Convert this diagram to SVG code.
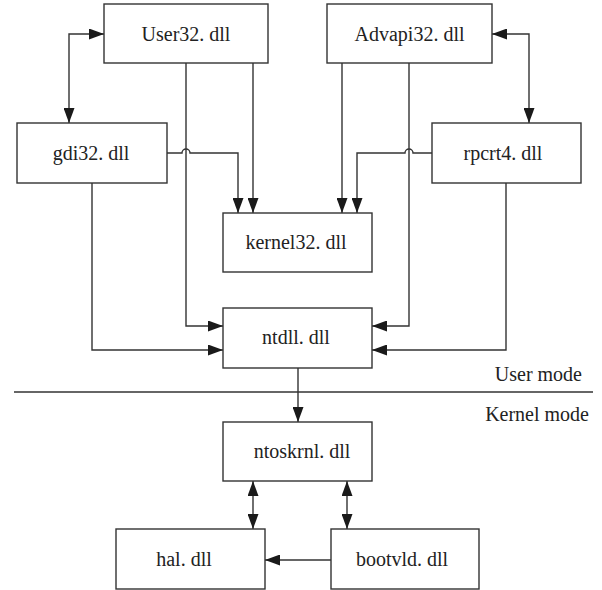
<svg xmlns="http://www.w3.org/2000/svg" width="602" height="590" viewBox="0 0 602 590">
  <style>
    .box { fill: #ffffff; stroke: #333333; stroke-width: 1.4; }
    .lbl { font-family: 'Liberation Serif', 'DejaVu Serif', serif; font-size: 20px; fill: #222222; text-anchor: middle; }
    .mode { font-family: 'Liberation Serif', 'DejaVu Serif', serif; font-size: 20px; fill: #222222; text-anchor: end; }
    .wire { fill: none; stroke: #333333; stroke-width: 1.4; }
    .arr { marker-end: url(#head); }
    .both { marker-start: url(#head); marker-end: url(#head); }
  </style>
  <defs>
    <marker id="head" viewBox="0 0 15 11" markerUnits="userSpaceOnUse" markerWidth="15" markerHeight="11" refX="15" refY="5.5" orient="auto-start-reverse">
      <path d="M0,0 L15,5.5 L0,11 z" fill="#1a1a1a"/>
    </marker>
  </defs>

  <rect width="602" height="590" fill="#ffffff"/>

  <!-- user / kernel boundary -->
  <line x1="14" y1="392" x2="593" y2="392" stroke="#333333" stroke-width="1.4"/>
  <text class="mode" x="582" y="381" font-family="Liberation Serif, serif">User mode</text>
  <text class="mode" x="589" y="421" font-family="Liberation Serif, serif">Kernel mode</text>

  <g id="connectors">
    <!-- User32 <-> gdi32 -->
    <path class="wire both" d="M104,34 H69 V123"/>
    <!-- Advapi32 <-> rpcrt4 -->
    <path class="wire both" d="M492,34 H529 V123"/>
    <!-- User32 -> kernel32, ntdll -->
    <path class="wire arr" d="M253,63 V213"/>
    <path class="wire arr" d="M186,63 V326 H223"/>
    <!-- gdi32 -> kernel32 (hops over User32 line) -->
    <path class="wire arr" d="M167,153 H182 A4,4 0 0 1 190,153 H238 V213"/>
    <!-- gdi32 -> ntdll -->
    <path class="wire arr" d="M92,183 V350 H223"/>
    <!-- Advapi32 -> kernel32, ntdll -->
    <path class="wire arr" d="M342,63 V213"/>
    <path class="wire arr" d="M409,52 V326 H372"/>
    <!-- rpcrt4 -> kernel32 (hops over Advapi32 line) -->
    <path class="wire arr" d="M432,153 H413 A4,4 0 0 0 405,153 H357 V213"/>
    <!-- rpcrt4 -> ntdll -->
    <path class="wire arr" d="M506,183 V350 H372"/>
    <!-- ntdll -> ntoskrnl -->
    <path class="wire arr" d="M298,368 V422"/>
    <!-- ntoskrnl <-> hal, bootvld -->
    <path class="wire both" d="M253,481 V529"/>
    <path class="wire both" d="M347,481 V529"/>
    <!-- bootvld -> hal -->
    <path class="wire arr" d="M331,560 H265"/>
  </g>

  <g id="user32">
    <rect class="box" x="104" y="4" width="164" height="59"/>
    <text class="lbl" x="186" y="41">User32. dll</text>
  </g>
  <g id="advapi32">
    <rect class="box" x="327" y="4" width="165" height="59"/>
    <text class="lbl" x="409.5" y="41">Advapi32. dll</text>
  </g>
  <g id="gdi32">
    <rect class="box" x="17" y="123" width="150" height="60"/>
    <text class="lbl" x="91" y="160">gdi32. dll</text>
  </g>
  <g id="rpcrt4">
    <rect class="box" x="432" y="123" width="149" height="60"/>
    <text class="lbl" x="503" y="160">rpcrt4. dll</text>
  </g>
  <g id="kernel32">
    <rect class="box" x="223" y="213" width="149" height="59"/>
    <text class="lbl" x="296" y="249">kernel32. dll</text>
  </g>
  <g id="ntdll">
    <rect class="box" x="223" y="308" width="149" height="60"/>
    <text class="lbl" x="296" y="344">ntdll. dll</text>
  </g>
  <g id="ntoskrnl">
    <rect class="box" x="223" y="422" width="149" height="59"/>
    <text class="lbl" x="302" y="458">ntoskrnl. dll</text>
  </g>
  <g id="hal">
    <rect class="box" x="116" y="529" width="149" height="60"/>
    <text class="lbl" x="184" y="566">hal. dll</text>
  </g>
  <g id="bootvld">
    <rect class="box" x="331" y="529" width="148" height="60"/>
    <text class="lbl" x="402" y="566">bootvld. dll</text>
  </g>
</svg>
